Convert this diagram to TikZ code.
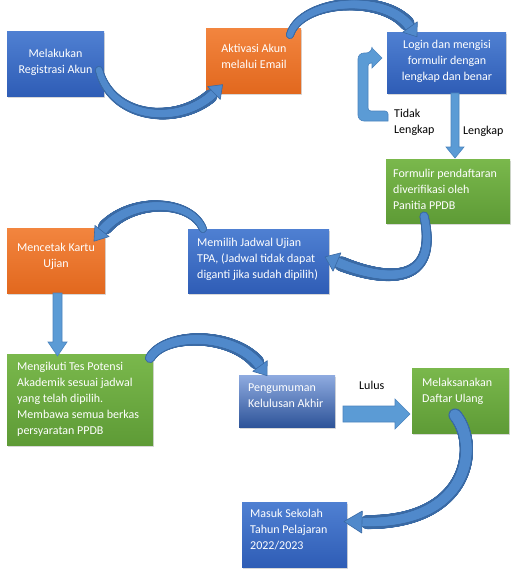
\documentclass[tikz,border=0pt]{standalone}
\usepackage{fontspec}
\setmainfont{Carlito}
\usetikzlibrary{decorations.markings,shadows,calc}
\definecolor{bluetop}{HTML}{4F80D2}
\definecolor{bluebot}{HTML}{2F5DB6}
\definecolor{orgtop}{HTML}{F2853F}
\definecolor{orgbot}{HTML}{E2681E}
\definecolor{grntop}{HTML}{7AB84C}
\definecolor{grnbot}{HTML}{5E9B36}
\definecolor{pgtop}{HTML}{8FABE0}
\definecolor{pgbot}{HTML}{2E5499}
\definecolor{arrfill}{HTML}{5B9BD5}
\definecolor{arredge}{HTML}{4A84BE}
\definecolor{crvfill}{HTML}{5089CB}
\definecolor{crvedge}{HTML}{3A6AA5}
\tikzset{
  boxbase/.style={rectangle, inner sep=0pt, draw=none,
    drop shadow={shadow xshift=1.2pt, shadow yshift=-1.5pt, opacity=0.3}},
  bluebox/.style={boxbase, top color=bluetop, bottom color=bluebot},
  orgbox/.style={boxbase, top color=orgtop, bottom color=orgbot},
  grnbox/.style={boxbase, top color=grntop, bottom color=grnbot},
  pgbox/.style={boxbase, top color=pgtop, bottom color=pgbot},
  txt/.style={text=white, inner sep=0pt, font=\fontsize{12}{16}\selectfont},
  txtc/.style={txt, align=center, anchor=north},
  txtl/.style={txt, align=left, anchor=north west},
  lbl/.style={text=black, inner sep=0pt, font=\fontsize{12}{16}\selectfont, align=left, anchor=north west},
  blockarrow/.style={fill=arrfill, draw=arredge, line width=0.6pt, line join=miter},
  crvheadstyle/.style={fill=crvfill, draw=crvedge, line width=0.6pt, line join=round},
  crvdark/.style n args={3}{decoration={markings,
      mark=between positions 0 and #3 step 0.4pt with {%
        \pgfmathsetmacro\tpr{#1+(#2-#1)*\pgfkeysvalueof{/pgf/decoration/mark info/distance from start}/\pgfdecoratedpathlength}%
        \fill[crvedge] (0pt,0pt) circle[radius=\tpr pt];}}, decorate},
  crvlight/.style n args={2}{decoration={markings,
      mark=between positions 0 and 1 step 0.4pt with {%
        \pgfmathsetmacro\tpr{#1+(#2-#1)*\pgfkeysvalueof{/pgf/decoration/mark info/distance from start}/\pgfdecoratedpathlength}%
        \fill[crvfill] (0pt,0pt) circle[radius=\tpr pt];}}, decorate},
}
% #1 start, #2 control1, #3 control2, #4 end, #5 r0, #6 r1, #7 half head width, #8 head length
\newcommand\curvearrow[8]{%
  \path[crvdark={#5+1}{#6+1}{0.96}] (#1) .. controls (#2) and (#3) .. (#4);
  \path[crvlight={#5}{#6}] (#1) .. controls (#2) and (#3) .. (#4);
  \filldraw[crvheadstyle] ($(#4)!#7pt!90:(#3)$) -- ($(#4)!-#8pt!(#3)$) -- ($(#4)!#7pt!-90:(#3)$) -- cycle;
}
\begin{document}
\begin{tikzpicture}[x=1pt, y=-1pt]
\fill[white] (0,0) rectangle (520,571);
\useasboundingbox (0,0) rectangle (520,571);

% boxes
\node[bluebox, minimum width=97pt, minimum height=65pt] (reg) at (55.5,63.5) {};
\node[orgbox, minimum width=95pt, minimum height=65pt] (akt) at (253.5,60.5) {};
\node[bluebox, minimum width=119pt, minimum height=61pt] (login) at (446.5,62.5) {};
\node[grnbox, minimum width=124pt, minimum height=64pt] (form) at (448,191) {};
\node[orgbox, minimum width=98pt, minimum height=65pt] (cetak) at (56,260.5) {};
\node[bluebox, minimum width=141pt, minimum height=64pt] (pilih) at (258.5,261) {};
\node[grnbox, minimum width=146pt, minimum height=91pt] (tes) at (80,399.5) {};
\node[pgbox, minimum width=96pt, minimum height=52pt] (umum) at (287,401) {};
\node[grnbox, minimum width=97pt, minimum height=65pt] (ulang) at (460.5,400.5) {};
\node[bluebox, minimum width=105pt, minimum height=65pt] (masuk) at (294.5,534.5) {};

% texts
\node[txtc] (regt) at (55.5,45.8) {\strut Melakukan\\Registrasi Akun};
\node[txtc] (aktt) at (254,41) {\strut Aktivasi Akun\\melalui Email};
\node[txtc] (logint) at (447,36.8) {\strut Login dan mengisi\\formulir dengan\\lengkap dan benar};
\node[txtl] (formt) at (393,166) {\strut Formulir pendaftaran\\diverifikasi oleh\\Panitia PPDB};
\node[txtc] (cetakt) at (56,240.3) {\strut Mencetak Kartu\\Ujian};
\node[txtl] (piliht) at (197,235.3) {\strut Memilih Jadwal Ujian\\TPA, (Jadwal tidak dapat\\diganti jika sudah dipilih)};
\node[txtl] (test) at (17,359.3) {\strut Mengikuti Tes Potensi\\Akademik sesuai jadwal\\yang telah dipilih.\\Membawa semua berkas\\persyaratan PPDB};
\node[txtl] (umumt) at (248,380.3) {\strut Pengumuman\\Kelulusan Akhir};
\node[txtl] (ulangt) at (422,375.3) {\strut Melaksanakan\\Daftar Ulang};
\node[txtl] (masukt) at (250,506.3) {\strut Masuk Sekolah\\Tahun Pelajaran\\2022/2023};

% labels
\node[lbl] (tidak) at (394,106.3) {\strut Tidak\\Lengkap};
\node[lbl] (lengkap) at (463,123.3) {\strut Lengkap};
\node[lbl] (lulus) at (359,378.3) {\strut Lulus};

% straight block arrows
\filldraw[blockarrow] (451,93) -- (459,93) -- (459,147) -- (464,147) -- (455,158) -- (446,147) -- (451,147) -- cycle;
\filldraw[blockarrow] (53,293) -- (62,293) -- (62,342) -- (67,342) -- (57.5,356) -- (48,342) -- (53,342) -- cycle;
\filldraw[blockarrow] (343,406) -- (395,406) -- (395,399) -- (410,414) -- (395,429) -- (395,422) -- (343,422) -- cycle;
% loop arrow (Tidak Lengkap)
\filldraw[blockarrow] (388,121) [rounded corners=6pt] -- (358,121) -- (358,53) -- (372,53) [sharp corners] -- (372,48) -- (382,58) -- (372,68) -- (372,63) [rounded corners=3pt] -- (368,63) -- (368,111) -- (388,111) [sharp corners] -- cycle;

% curved arrows: start, controls, end
\coordinate (a0) at (99,70);   \coordinate (a1) at (112,120); \coordinate (a2) at (180,126); \coordinate (a3) at (214,93);
\coordinate (b0) at (290,35);  \coordinate (b1) at (300,0);   \coordinate (b2) at (385,-8);  \coordinate (b3) at (410,27);
\coordinate (c0) at (424,216); \coordinate (c1) at (442,298); \coordinate (c2) at (365,274); \coordinate (c3) at (337,262);
\coordinate (d0) at (203,229); \coordinate (d1) at (190,198); \coordinate (d2) at (128,198); \coordinate (d3) at (102,231);
\coordinate (e0) at (150,358); \coordinate (e1) at (165,332); \coordinate (e2) at (235,332); \coordinate (e3) at (260,366);
\coordinate (f0) at (455,415); \coordinate (f1) at (480,445); \coordinate (f2) at (470,525); \coordinate (f3) at (362,522);

\curvearrow{a0}{a1}{a2}{a3}{3}{4}{9}{12}
\curvearrow{b0}{b1}{b2}{b3}{3}{4.5}{9}{12}
\curvearrow{c0}{c1}{c2}{c3}{3.5}{4.5}{10}{13}
\curvearrow{d0}{d1}{d2}{d3}{3}{4.5}{9}{13}
\curvearrow{e0}{e1}{e2}{e3}{4}{4.5}{9}{12}
\curvearrow{f0}{f1}{f2}{f3}{5.5}{4}{11}{18}
\end{tikzpicture}
\end{document}
